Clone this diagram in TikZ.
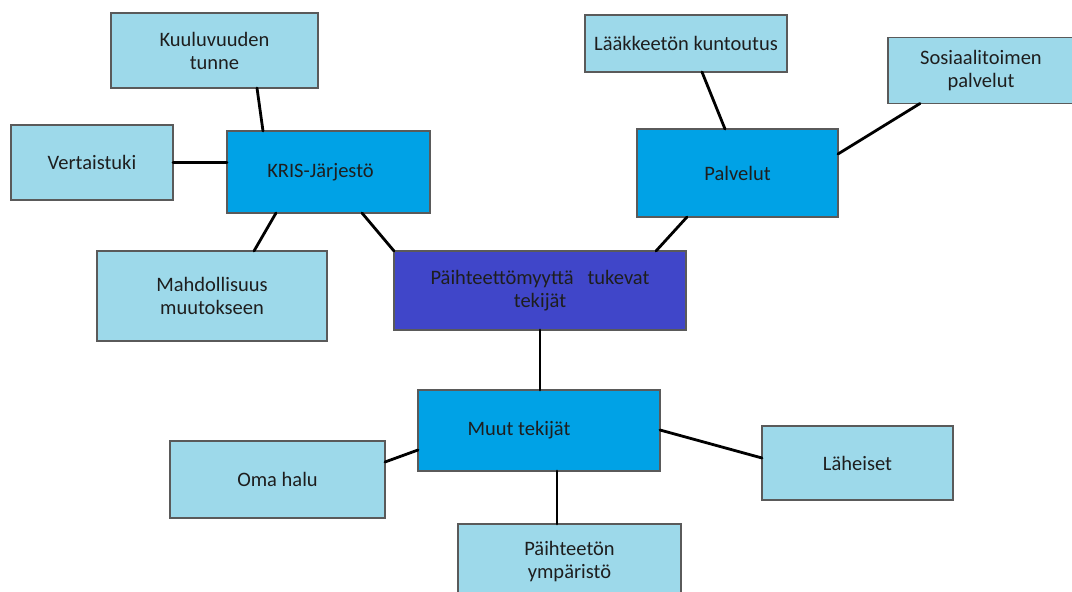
\documentclass[tikz,border=0pt]{standalone}
\usepackage{fontspec}
\setmainfont{Carlito}
\usepackage{tikz}

\definecolor{lightbox}{HTML}{9DD9EA}
\definecolor{midbox}{HTML}{00A2E6}
\definecolor{mainbox}{HTML}{4046C9}
\definecolor{boxline}{HTML}{5A5A5A}
\definecolor{boxtext}{HTML}{1E1E1E}

\begin{document}
\begin{tikzpicture}[
    x=1pt, y=-1pt,
    every node/.style={draw=boxline, line width=1.2pt, align=center, inner sep=0pt, outer sep=0pt,
        text=boxtext, font=\fontsize{20.5}{23}\selectfont},
    leaf/.style={fill=lightbox},
    branch/.style={fill=midbox},
    root/.style={fill=mainbox},
    every path/.style={line width=2.8pt, line cap=round},
]
    \useasboundingbox (0,0) rectangle (1072,592);

    % Nodes
    \node (cent) [root, minimum width=292pt, minimum height=79pt] at (540,290.5) {Päihteettömyyttä~~~tukevat\\tekijät};

    \node (kris) [branch, minimum width=203pt, minimum height=82pt] at (328.5,172) {KRIS-Järjestö\hspace*{16pt}};
    \node (palv) [branch, minimum width=201pt, minimum height=88pt] at (737.5,173) {Palvelut};
    \node (muut) [branch, minimum width=242pt, minimum height=81pt] at (539,430.5) {Muut tekijät\hspace*{40pt}};

    \node (kuul) [leaf, minimum width=207pt, minimum height=75pt] at (214.5,50.5) {Kuuluvuuden\\tunne};
    \node (vert) [leaf, minimum width=162pt, minimum height=75pt] at (92,162.5) {Vertaistuki};
    \node (mahd) [leaf, minimum width=230pt, minimum height=90pt] at (212,296) {Mahdollisuus\\muutokseen};

    \node (laak) [leaf, minimum width=202pt, minimum height=57pt] at (686,43.5) {Lääkkeetön kuntoutus};
    \node (sos) [leaf, minimum width=186pt, minimum height=66pt] at (981,70.5) {Sosiaalitoimen\\palvelut};

    \node (oma) [leaf, minimum width=215pt, minimum height=77pt] at (277.5,479.5) {Oma halu};
    \node (lah) [leaf, minimum width=191pt, minimum height=74pt] at (857.5,463) {Läheiset};
    \node (paih) [leaf, minimum width=223pt, minimum height=76pt] at (569.5,562) {Päihteetön\\ympäristö};

    % Connections
    \draw ([xshift=135pt]kris.south west) -- (cent.north west);
    \draw ([xshift=50pt]palv.south west) -- ([xshift=262pt]cent.north west);
    \draw (cent.south) -- (cent.south |- muut.north);

    \draw ([xshift=146pt]kuul.south west) -- ([xshift=36pt]kris.north west);
    \draw (vert.east) -- (vert.east -| kris.west);
    \draw ([xshift=49pt]kris.south west) -- ([xshift=157pt]mahd.north west);

    \draw ([xshift=117pt]laak.south west) -- ([xshift=88pt]palv.north west);
    \draw ([xshift=32pt]sos.south west) -- ([yshift=-25pt]palv.north east);

    \draw ([yshift=-60pt]muut.north west) -- ([yshift=-21pt]oma.north east);
    \draw ([yshift=-40pt]muut.north east) -- ([yshift=-32pt]lah.north west);
    \draw ([xshift=139pt]muut.south west) coordinate (m) -- (m |- paih.north);

\end{tikzpicture}
\end{document}
